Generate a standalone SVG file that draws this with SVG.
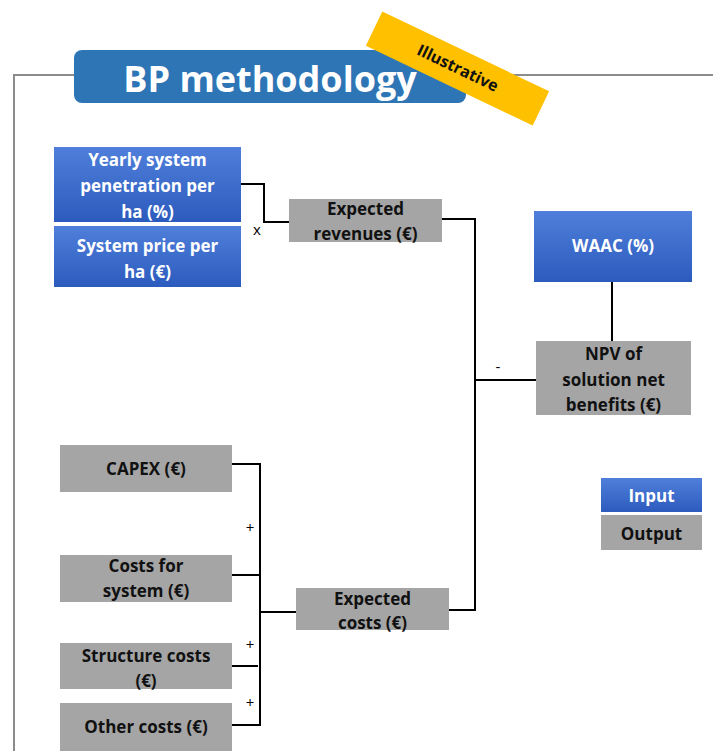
<svg xmlns="http://www.w3.org/2000/svg" width="713" height="751" viewBox="0 0 713 751">
<defs>
<linearGradient id="blueGrad" x1="0" y1="0" x2="0" y2="1">
<stop offset="0" stop-color="#4F7FDA"/>
<stop offset="1" stop-color="#2C5BBE"/>
</linearGradient>
<style>
.in{fill:url(#blueGrad);}
.out{fill:#A5A5A5;}
.tw{font-family:"Open Sans","Liberation Sans",sans-serif;font-weight:bold;font-size:17px;fill:#FFFFFF;text-anchor:middle;}
.tb{font-family:"Open Sans","Liberation Sans",sans-serif;font-weight:bold;font-size:17px;fill:#111111;text-anchor:middle;}
.conn{fill:none;stroke:#000000;stroke-width:2;}
.op{font-family:"Open Sans","Liberation Sans",sans-serif;font-size:15px;fill:#000000;text-anchor:middle;}
</style>
</defs>
<rect x="0" y="0" width="713" height="751" fill="#FFFFFF"/>
<g id="frame">
<path d="M14 751 V75 H713" fill="none" stroke="#8C8C8C" stroke-width="2"/>
</g>
<g id="title">
<rect x="74" y="50" width="392" height="53" rx="8" fill="#2E75B6"/>
<text x="270" y="92" font-family="'Open Sans','Liberation Sans',sans-serif" font-weight="bold" font-size="36" fill="#FFFFFF" text-anchor="middle">BP methodology</text>
</g>
<g id="banner" transform="translate(457.5 68.5) rotate(25.6)">
<rect x="-92.5" y="-19" width="185" height="38" fill="#FFC000"/>
<text x="0" y="5" font-family="'Open Sans','Liberation Sans',sans-serif" font-weight="bold" font-size="16" fill="#111111" text-anchor="middle">Illustrative</text>
</g>
<g id="connectors">
<polyline class="conn" points="241,184 264,184 264,222 289,222"/>
<polyline class="conn" points="442,219 475,219 475,610 449,610"/>
<line class="conn" x1="475" y1="380" x2="536" y2="380"/>
<line class="conn" x1="612" y1="282" x2="612" y2="341"/>
<polyline class="conn" points="232,464 260,464 260,725 232,725"/>
<line class="conn" x1="232" y1="575" x2="260" y2="575"/>
<line class="conn" x1="232" y1="666" x2="258" y2="666"/>
<line class="conn" x1="260" y1="612" x2="296" y2="612"/>
<text class="op" x="257" y="235">x</text>
<text class="op" x="498" y="372">-</text>
<text class="op" x="250" y="533">+</text>
<text class="op" x="250" y="650">+</text>
<text class="op" x="250" y="708">+</text>
</g>
<g id="yearly">
<rect class="in" x="54" y="147" width="187" height="75"/>
<text class="tw" x="147.5" y="166">Yearly system</text>
<text class="tw" x="147.5" y="192">penetration per</text>
<text class="tw" x="147.5" y="218">ha (%)</text>
</g>
<g id="price">
<rect class="in" x="54" y="226" width="187" height="61"/>
<text class="tw" x="147.5" y="252">System price per</text>
<text class="tw" x="147.5" y="278">ha (€)</text>
</g>
<g id="revenues">
<rect class="out" x="289" y="199" width="153" height="43"/>
<text class="tb" x="365.5" y="215">Expected</text>
<text class="tb" x="365.5" y="240">revenues (€)</text>
</g>
<g id="waac">
<rect class="in" x="534" y="211" width="158" height="71"/>
<text class="tw" x="613" y="252">WAAC (%)</text>
</g>
<g id="npv">
<rect class="out" x="536" y="341" width="155" height="74"/>
<text class="tb" x="613.5" y="360">NPV of</text>
<text class="tb" x="613.5" y="386">solution  net</text>
<text class="tb" x="613.5" y="411">benefits (€)</text>
</g>
<g id="capex">
<rect class="out" x="60" y="445" width="172" height="47"/>
<text class="tb" x="146" y="475">CAPEX (€)</text>
</g>
<g id="costsys">
<rect class="out" x="60" y="555" width="172" height="47"/>
<text class="tb" x="146" y="572">Costs for</text>
<text class="tb" x="146" y="597">system (€)</text>
</g>
<g id="expcosts">
<rect class="out" x="296" y="588" width="153" height="42"/>
<text class="tb" x="372.5" y="605">Expected</text>
<text class="tb" x="372.5" y="629">costs (€)</text>
</g>
<g id="structure">
<rect class="out" x="60" y="643" width="172" height="46"/>
<text class="tb" x="146" y="662">Structure costs</text>
<text class="tb" x="146" y="687">(€)</text>
</g>
<g id="other">
<rect class="out" x="60" y="703" width="172" height="48"/>
<text class="tb" x="146" y="733">Other costs (€)</text>
</g>
<g id="legend-input">
<rect class="in" x="601" y="478" width="101" height="34"/>
<text class="tw" x="651.5" y="502">Input</text>
</g>
<g id="legend-output">
<rect class="out" x="601" y="515" width="101" height="35"/>
<text class="tb" x="651.5" y="540">Output</text>
</g>
</svg>
